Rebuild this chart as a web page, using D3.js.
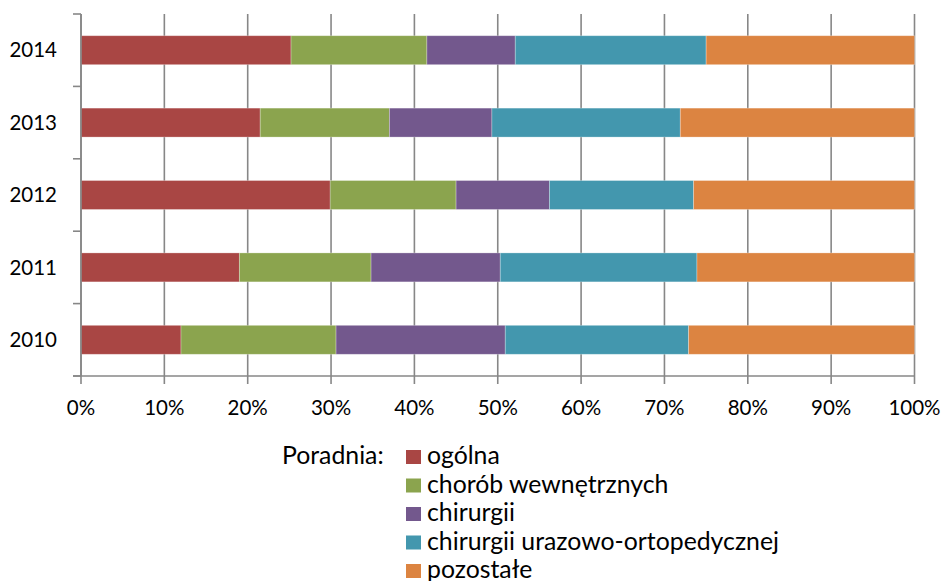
<!DOCTYPE html>
<html>
<head>
<meta charset="utf-8">
<script src="https://cdn.jsdelivr.net/npm/d3@7"></script>
<style>
  body { margin: 0; background: #fff; }
  svg text { font-family: Lato, 'Open Sans', sans-serif; fill: #000; }
</style>
</head>
<body>
<script>
// categories (bottom to top)
const years = ['2010', '2011', '2012', '2013', '2014']

// series names and shares in % per year
const seriesNames = ['ogólna', 'chorób wewnętrznych', 'chirurgii', 'chirurgii urazowo-ortopedycznej', 'pozostałe']
const ogolna = [12.0, 19.0, 29.9, 21.5, 25.2]
const chorobWewn = [18.6, 15.8, 15.1, 15.5, 16.3]
const chirurgii = [20.3, 15.5, 11.2, 12.3, 10.6]
const urazowo = [22.0, 23.6, 17.3, 22.6, 22.9]
const pozostale = [27.1, 26.1, 26.5, 28.1, 25.0]

const xTicks = [0, 10, 20, 30, 40, 50, 60, 70, 80, 90, 100]
const colors = ['#a94644', '#8ba44e', '#73588d', '#4397ae', '#dc8441']

// table for the stack layout
const table = years.map((y, i) => ({
  year: y,
  s0: ogolna[i], s1: chorobWewn[i], s2: chirurgii[i], s3: urazowo[i], s4: pozostale[i]
}))
const keys = ['s0', 's1', 's2', 's3', 's4']

const width = 942, height = 581
const margin = {top: 14, left: 81, right: 27.5, bottom: 205}

const svg = d3.select('body').append('svg')
  .attr('width', width)
  .attr('height', height)

const x = d3.scaleLinear()
  .domain([0, 100])
  .range([margin.left, width - margin.right])

const y = d3.scaleBand()
  .domain(years.slice().reverse())
  .range([margin.top, height - margin.bottom])
  .paddingInner(0.6)
  .paddingOuter(0.3)

const axisColor = '#878787'
const yBottom = height - margin.bottom

// vertical gridlines (they also act as the x tick marks)
svg.append('g')
  .selectAll('line')
  .data(xTicks)
  .enter().append('line')
  .attr('x1', d => x(d)).attr('x2', d => x(d))
  .attr('y1', margin.top).attr('y2', yBottom + 8)
  .attr('stroke', axisColor)
  .attr('stroke-width', 1.6)

// stacked bars
const stacked = d3.stack().keys(keys)(table)

svg.append('g')
  .selectAll('g')
  .data(stacked)
  .enter().append('g')
  .attr('fill', (d, i) => colors[i])
  .selectAll('rect')
  .data(d => d)
  .enter().append('rect')
  .attr('x', d => x(d[0]))
  .attr('width', d => x(d[1]) - x(d[0]))
  .attr('y', d => y(d.data.year))
  .attr('height', y.bandwidth())
  .attr('stroke', 'rgba(255,255,255,0.35)')
  .attr('stroke-width', 0.8)

// y axis line and category boundary ticks
const step = y.step()
const y0 = y.range()[0]
const boundaries = d3.range(years.length + 1).map(i => y0 + i * step)

svg.append('line')
  .attr('x1', x(0)).attr('x2', x(0))
  .attr('y1', margin.top).attr('y2', yBottom)
  .attr('stroke', axisColor).attr('stroke-width', 1.6)

svg.append('g')
  .selectAll('line')
  .data(boundaries)
  .enter().append('line')
  .attr('x1', x(0) - 8).attr('x2', x(0))
  .attr('y1', d => d).attr('y2', d => d)
  .attr('stroke', axisColor).attr('stroke-width', 1.6)

// x axis line
svg.append('line')
  .attr('x1', x(0) - 8).attr('x2', x(100))
  .attr('y1', yBottom).attr('y2', yBottom)
  .attr('stroke', axisColor).attr('stroke-width', 1.6)

// year labels
svg.append('g')
  .selectAll('text')
  .data(years)
  .enter().append('text')
  .attr('x', 57)
  .attr('y', d => y(d) + y.bandwidth() / 2)
  .attr('dy', '0.35em')
  .attr('text-anchor', 'end')
  .style('font-size', '20.5px')
  .text(d => d)

// percent labels
svg.append('g')
  .selectAll('text')
  .data(xTicks)
  .enter().append('text')
  .attr('x', d => x(d))
  .attr('y', 415)
  .attr('text-anchor', 'middle')
  .style('font-size', '20.5px')
  .text(d => d + '%')

// legend
const legend = svg.append('g')

legend.append('text')
  .attr('x', 282)
  .attr('y', 464)
  .style('font-size', '24.8px')
  .text('Poradnia:')

const item = legend.selectAll('.item')
  .data(seriesNames)
  .enter().append('g')
  .attr('class', 'item')
  .attr('transform', (d, i) => 'translate(406,' + (450 + i * 28.5) + ')')

item.append('rect')
  .attr('width', 15)
  .attr('height', 14)
  .attr('fill', (d, i) => colors[i])

item.append('text')
  .attr('x', 21)
  .attr('y', 14)
  .style('font-size', '24.8px')
  .text(d => d)
</script>
</body>
</html>
